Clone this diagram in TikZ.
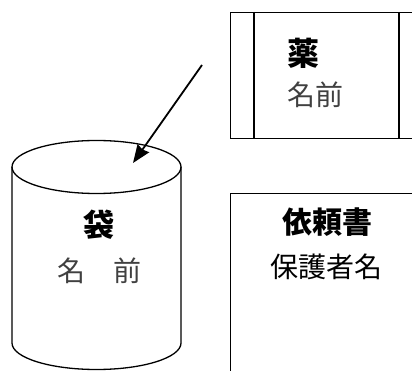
\documentclass[tikz,border=0pt]{standalone}
\usepackage{fontspec}
\newfontfamily\jpfont{Noto Sans CJK JP}
\usetikzlibrary{arrows.meta}

\begin{document}
\begin{tikzpicture}[x=1pt,y=-1pt]
          \useasboundingbox (0,0) rectangle (412,371);
          \clip (0,0) rectangle (412,371);

          % Define boxes
          \node[rectangle, draw, line width=1.3pt, anchor=north west, minimum width=200pt, minimum height=126pt] (drug) at (230,12) {};
          \draw[line width=1.3pt] (254,12) -- (254,138);
          \draw[line width=1.3pt] (399,12) -- (399,138);
          \node[rectangle, draw, line width=1.3pt, anchor=north west, minimum width=200pt, minimum height=200pt] (request) at (230,193) {};

          % Define bag
          \draw[line width=1.3pt] (96.5,167) ellipse (84.5pt and 26.5pt);
          \draw[line width=1.3pt] (12,167) -- (12,343) arc[start angle=180, end angle=360, x radius=84.5pt, y radius=26.5pt] -- (181,167);

          % Define texts
          \node[font=\jpfont\bfseries\fontsize{32}{32}\selectfont, anchor=west, inner sep=0pt] (drugtitle) at (287,53) {薬};
          \node[font=\jpfont\fontsize{28}{28}\selectfont, text=black!75, anchor=west, inner sep=0pt] (drugname) at (287,95) {名前};
          \node[font=\jpfont\bfseries\fontsize{30}{30}\selectfont, inner sep=0pt] (requesttitle) at (327,222) {依頼書};
          \node[font=\jpfont\fontsize{28}{28}\selectfont, inner sep=0pt] (guardian) at (326,267) {保護者名};
          \node[font=\jpfont\bfseries\fontsize{31}{31}\selectfont, inner sep=0pt] (bagtitle) at (99,225) {袋};
          \node[font=\jpfont\fontsize{28}{28}\selectfont, text=black!75, inner sep=0pt] (bagname) at (99,271) {名　前};

          % Draw arrow
          \coordinate (tail) at (202,65);
          \coordinate (tip) at (133,163);
          \draw[line width=1.8pt, -{Stealth[length=18pt, width=14pt, inset=1.5pt]}] (tail) -- (tip);
\end{tikzpicture}
\end{document}
